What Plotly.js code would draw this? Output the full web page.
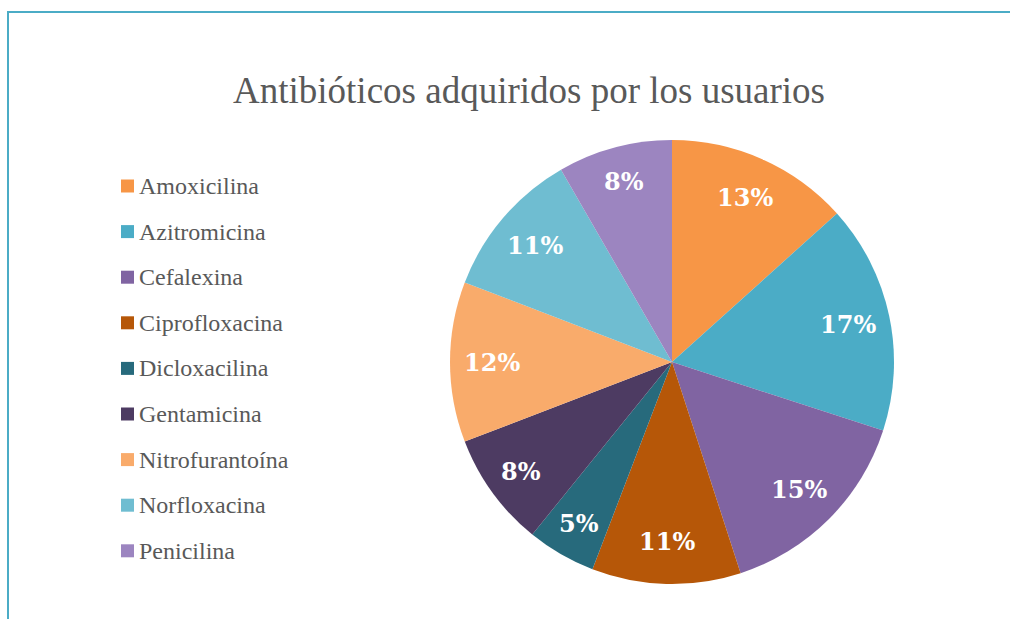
<!DOCTYPE html>
<html>
<head>
<meta charset="utf-8">
<script src="https://cdn.plot.ly/plotly-3.0.1.min.js"></script>
<style>
  html, body { margin: 0; padding: 0; background: #fff; }
  #wrap { position: relative; width: 1010px; height: 619px; overflow: hidden; }
  #chart { width: 1010px; height: 619px; }
  #frame { position: absolute; left: 7px; top: 11px; width: 1020px; height: 630px;
           border-left: 2px solid #4bacc6; border-top: 2px solid #4bacc6; pointer-events: none; }
</style>
</head>
<body>
<div id="wrap">
  <div id="chart"></div>
  <div id="frame"></div>
</div>
<script>
const labels = ["Amoxicilina", "Azitromicina", "Cefalexina", "Ciprofloxacina", "Dicloxacilina",
                "Gentamicina", "Nitrofurantoína", "Norfloxacina", "Penicilina"];
const values = [16, 20, 18, 13, 6, 10, 14, 13, 10];
const colors = ["#F79646", "#4BACC6", "#8064A2", "#B65708", "#276A7C",
                "#4D3B62", "#F9AB6B", "#6FBDD1", "#9C85C0"];
const titleText = "Antibióticos adquiridos por los usuarios";

const SERIF = "Liberation Serif";
const W = 1010, H = 619;
const cx = 672, cy = 362, R = 222;

const trace = {
  type: "pie",
  labels: labels,
  values: values,
  sort: false,
  direction: "clockwise",
  rotation: 0,
  marker: { colors: colors, line: { width: 0 } },
  textinfo: "none",
  hoverinfo: "label+percent",
  showlegend: false,
  domain: { x: [(cx - R) / W, (cx + R) / W], y: [1 - (cy + R) / H, 1 - (cy - R) / H] }
};

const annotations = [];
const shapes = [];

// data labels placed along each slice bisector (derived from the values)
const total = values.reduce((a, b) => a + b, 0);
let cum = 0;
values.forEach((v, i) => {
  const mid = (cum + v / 2) / total * 2 * Math.PI;
  cum += v;
  const frac = v / total;
  const rr = (frac < 0.1 ? 0.84 : 0.81) * R;
  const px = cx + rr * Math.sin(mid);
  const py = cy - rr * Math.cos(mid);
  annotations.push({
    xref: "paper", yref: "paper", x: px / W, y: 1 - py / H,
    xanchor: "center", yanchor: "middle", showarrow: false,
    text: "<b>" + Math.round(frac * 100) + "%</b>",
    font: { family: "DejaVu Serif", size: 24, color: "#ffffff" }
  });
});

// manual legend
const legTop = 186, legStep = 45.6, sq = 13, sqX = 121, txtX = 137;
labels.forEach((lab, i) => {
  const yc = legTop + i * legStep;
  shapes.push({
    type: "rect", xref: "paper", yref: "paper",
    x0: sqX / W, x1: (sqX + sq) / W,
    y0: 1 - (yc + sq / 2) / H, y1: 1 - (yc - sq / 2) / H,
    fillcolor: colors[i], line: { width: 0 }
  });
  annotations.push({
    xref: "paper", yref: "paper", x: txtX / W, y: 1 - yc / H,
    xanchor: "left", yanchor: "middle", showarrow: false,
    text: lab, font: { family: SERIF, size: 24, color: "#595959" }
  });
});

const layout = {
  width: W, height: H,
  margin: { l: 0, r: 0, t: 0, b: 0 },
  paper_bgcolor: "#ffffff",
  plot_bgcolor: "#ffffff",
  title: {
    text: titleText,
    font: { family: SERIF, size: 37, color: "#595959" },
    x: 529 / W, xref: "paper", xanchor: "center",
    y: 1 - 90 / H, yref: "paper", yanchor: "middle"
  },
  showlegend: false,
  annotations: annotations,
  shapes: shapes
};

Plotly.newPlot("chart", [trace], layout, { displayModeBar: false, staticPlot: true });
</script>
</body>
</html>
